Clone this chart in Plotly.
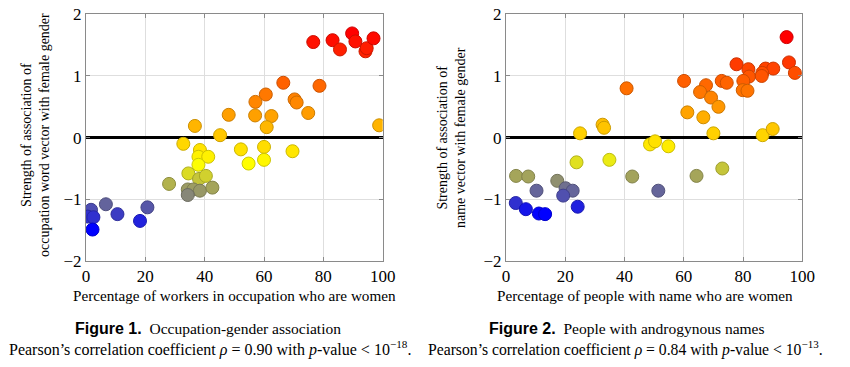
import plotly.graph_objects as go

# ---- Figure 1: occupations ----
occ_pct_women = [76.6, 83.1, 85.6, 89.7, 90.8, 94.2, 94.6, 96.9,
                 66.5, 78.7, 60.6, 57.1, 70.3, 71.0, 74.9, 48.1, 57.0, 62.5, 60.9, 36.7, 98.8, 45.2,
                 32.8, 38.4, 52.2, 60.0, 69.6, 37.9, 41.2, 37.9, 54.8, 60.0,
                 34.5, 38.1, 40.4, 28.0, 34.3, 36.2, 38.4, 42.6, 34.3,
                 6.7, 1.7, 0.6, 2.5, 10.6, 20.7, 18.2, 2.2]
occ_assoc = [1.55, 1.58, 1.43, 1.69, 1.56, 1.40, 1.45, 1.61,
             0.89, 0.84, 0.70, 0.58, 0.62, 0.57, 0.40, 0.37, 0.36, 0.35, 0.17, 0.19, 0.20, 0.04,
             -0.10, -0.20, -0.19, -0.15, -0.22, -0.31, -0.31, -0.44, -0.42, -0.36,
             -0.58, -0.67, -0.62, -0.75, -0.84, -0.84, -0.86, -0.81, -0.93,
             -1.08, -1.17, -1.28, -1.29, -1.24, -1.13, -1.35, -1.49]

# ---- Figure 2: androgynous names ----
name_pct_women = [94.7, 77.8, 95.5, 97.5, 81.8, 87.6, 90.2, 82.0, 80.1, 86.5, 86.3, 79.9, 81.5,
                  72.8, 74.5, 60.1, 67.5, 65.5, 69.2, 71.7, 40.7, 61.2, 66.6, 32.6, 33.1,
                  25.0, 70.0, 86.6, 90.0, 48.6, 50.3, 54.8, 34.9, 23.8, 73.0,
                  3.4, 7.5, 17.3, 42.6, 64.3, 10.3, 20.1, 22.5, 19.3, 51.4,
                  3.3, 6.7, 11.1, 13.2, 24.2]
name_assoc = [1.63, 1.19, 1.22, 1.05, 1.11, 1.12, 1.12, 0.99, 0.92, 1.05, 1.00, 0.77, 0.76,
              0.92, 0.89, 0.92, 0.85, 0.74, 0.65, 0.50, 0.80, 0.41, 0.33, 0.21, 0.16,
              0.07, 0.07, 0.04, 0.14, -0.11, -0.06, -0.14, -0.36, -0.40, -0.50,
              -0.62, -0.63, -0.70, -0.63, -0.62, -0.86, -0.82, -0.86, -0.94, -0.86,
              -1.06, -1.16, -1.23, -1.24, -1.12]

x_ticks = [0, 20, 40, 60, 80, 100]
y_ticks = [-2, -1, 0, 1, 2]

# pgfplots "hot" colormap: blue, yellow, orange, red
hot_fill = [[0, "rgb(0,0,255)"], [1/3, "rgb(255,255,0)"],
            [2/3, "rgb(255,128,0)"], [1, "rgb(255,0,0)"]]
hot_edge = [[0, "rgb(0,0,204)"], [1/3, "rgb(204,204,0)"],
            [2/3, "rgb(204,102,0)"], [1, "rgb(204,0,0)"]]

SERIF = "Liberation Serif"
SANS = "Liberation Sans"

W, H = 850, 367
OFF = 8  # the page body has an 8px default margin


def px(xp):
    return (xp - OFF) / W


def py(yp):
    return 1 - (yp - OFF) / H


fig = go.Figure()


def add_scatter(xs, ys, xa, ya):
    lo, hi = min(ys), max(ys)
    fig.add_trace(go.Scatter(
        x=xs, y=ys, mode="markers", xaxis=xa, yaxis=ya, showlegend=False,
        marker=dict(size=13, color=ys, colorscale=hot_fill, cmin=lo, cmax=hi,
                    line=dict(width=1, color=ys, colorscale=hot_edge, cmin=lo, cmax=hi),
                    opacity=1),
        hoverinfo="x+y"))


add_scatter(occ_pct_women, occ_assoc, "x", "y")
add_scatter(name_pct_women, name_assoc, "x2", "y2")


def xaxis(domain, anchor):
    return dict(domain=domain, anchor=anchor, range=[0, 100], tickvals=x_ticks,
                showgrid=True, gridcolor="#dedede", gridwidth=1, zeroline=False,
                showline=True, linecolor="#8a8a8a", linewidth=1, mirror="ticks",
                ticks="inside", ticklen=4, tickcolor="#8a8a8a", automargin=False,
                ticklabeloverflow="allow",
                tickfont=dict(family=SERIF, size=17, color="black"), fixedrange=True)


def yaxis(domain, anchor):
    return dict(domain=domain, anchor=anchor, range=[-2, 2], tickvals=y_ticks,
                showgrid=True, gridcolor="#dedede", gridwidth=1,
                zeroline=True, zerolinecolor="black", zerolinewidth=3,
                showline=True, linecolor="#8a8a8a", linewidth=1, mirror="ticks",
                ticks="inside", ticklen=4, tickcolor="#8a8a8a", automargin=False,
                ticklabeloverflow="allow",
                tickfont=dict(family=SERIF, size=17, color="black"), fixedrange=True)


ydom = [py(261), py(14.3)]
fig.update_layout(
    width=W, height=H, margin=dict(l=0, r=0, t=0, b=0, autoexpand=False),
    paper_bgcolor="white", plot_bgcolor="white",
    xaxis=xaxis([px(86), px(382.7)], "y"), yaxis=yaxis(ydom, "x"),
    xaxis2=xaxis([px(506), px(802.3)], "y2"), yaxis2=yaxis(ydom, "x2"),
)


def ann(text, x, y, size, angle=0, family=SERIF):
    fig.add_annotation(text=text, x=px(x), y=py(y), xref="paper", yref="paper",
                       showarrow=False, xanchor="center", yanchor="middle",
                       textangle=angle, font=dict(family=family, size=size, color="black"))


# axis titles
ann("Percentage of workers in occupation who are women", 234, 295, 15.2)
ann("Percentage of people with name who are women", 645, 295, 15.2)
ann("Strength of association of<br>occupation word vector with female gender", 35, 135, 14, -90)
ann("Strength of association of<br>name vector with female gender", 451, 137, 14, -90)

# captions
ann(f"<span style='font-family:{SANS};font-size:16px'><b>Figure 1.</b></span>  Occupation-gender association", 208, 328, 15.5)
ann("Pearson’s correlation coefficient <i>ρ</i> = 0.90 with <i>p</i>-value &lt; 10<sup>−18</sup>.", 210, 348, 16)
ann(f"<span style='font-family:{SANS};font-size:16px'><b>Figure 2.</b></span>  People with androgynous names", 626, 328, 15.5)
ann("Pearson’s correlation coefficient <i>ρ</i> = 0.84 with <i>p</i>-value &lt; 10<sup>−13</sup>.", 625, 348, 15.7)

fig.write_html("out.html")
